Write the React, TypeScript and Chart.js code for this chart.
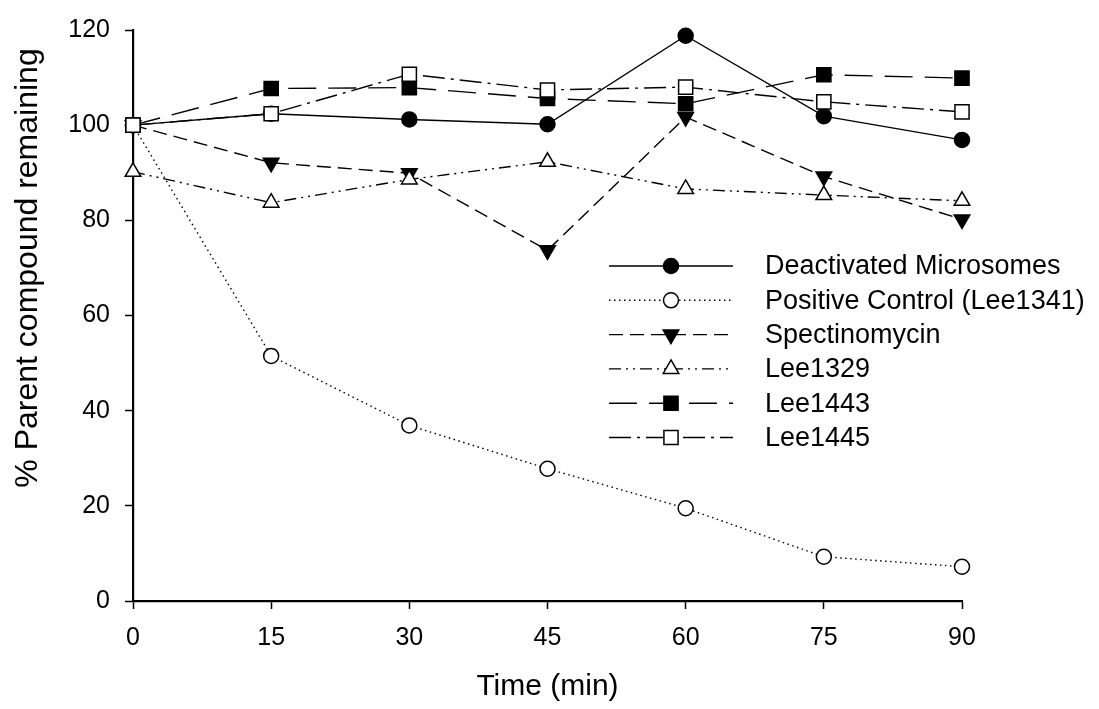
import React, { useEffect, useRef } from 'react';
import { Chart, registerables } from 'chart.js';

Chart.register(...registerables);

const FONT = "'Liberation Sans', Arial, sans-serif";

// ---- data ----
const timePoints = [0, 15, 30, 45, 60, 75, 90];
const xTickValues = [0, 15, 30, 45, 60, 75, 90];
const yTickValues = [0, 20, 40, 60, 80, 100, 120];

const deactivatedMicrosomes = [100, 102.4, 101.2, 100.2, 118.8, 101.9, 96.9];
const positiveControl = [100, 51.5, 36.9, 27.8, 19.5, 9.3, 7.2];
const spectinomycin = [100, 92.1, 89.9, 73.7, 101.7, 89.2, 80.2];
const lee1329 = [90.2, 83.7, 88.6, 92.3, 86.6, 85.3, 84.1];
const lee1443 = [100, 107.7, 107.9, 105.6, 104.5, 110.6, 109.9];
const lee1445 = [100, 102.4, 110.7, 107.4, 108, 104.9, 102.8];

const seriesLabels = [
  'Deactivated Microsomes',
  'Positive Control (Lee1341)',
  'Spectinomycin',
  'Lee1329',
  'Lee1443',
  'Lee1445',
];
const seriesValues = [deactivatedMicrosomes, positiveControl, spectinomycin, lee1329, lee1443, lee1445];

const xAxisTitle = 'Time (min)';
const yAxisTitle = '% Parent compound remaining';

// ---- styles ----
type SeriesStyle = { dash: number[]; shape: 'circle' | 'triangle' | 'rect'; radius: number; fill: string; rotation: number };
const seriesStyles: SeriesStyle[] = [
  { dash: [], shape: 'circle', radius: 7.5, fill: '#000000', rotation: 0 },
  { dash: [1.5, 3.5], shape: 'circle', radius: 7.5, fill: '#ffffff', rotation: 0 },
  { dash: [14, 7], shape: 'triangle', radius: 9, fill: '#000000', rotation: 180 },
  { dash: [12, 5, 2, 5, 2, 5], shape: 'triangle', radius: 9, fill: '#ffffff', rotation: 0 },
  { dash: [28, 12], shape: 'rect', radius: 10, fill: '#000000', rotation: 0 },
  { dash: [22, 6, 3, 6], shape: 'rect', radius: 10, fill: '#ffffff', rotation: 0 },
];

function drawMarker(ctx: CanvasRenderingContext2D, st: SeriesStyle, x: number, y: number) {
  ctx.save();
  ctx.setLineDash([]);
  ctx.beginPath();
  const r = st.radius;
  if (st.shape === 'circle') {
    ctx.arc(x, y, r, 0, Math.PI * 2);
  } else if (st.shape === 'triangle') {
    let a = (st.rotation * Math.PI) / 180;
    ctx.moveTo(x + Math.sin(a) * r, y - Math.cos(a) * r);
    a += (2 * Math.PI) / 3;
    ctx.lineTo(x + Math.sin(a) * r, y - Math.cos(a) * r);
    a += (2 * Math.PI) / 3;
    ctx.lineTo(x + Math.sin(a) * r, y - Math.cos(a) * r);
    ctx.closePath();
  } else {
    const s = r * Math.SQRT1_2;
    ctx.rect(x - s, y - s, 2 * s, 2 * s);
  }
  ctx.fillStyle = st.fill;
  ctx.fill();
  ctx.lineWidth = 1.5;
  ctx.strokeStyle = '#000';
  ctx.stroke();
  ctx.restore();
}

const backgroundPlugin = {
  id: 'whiteBg',
  beforeDraw(chart: any) {
    const ctx = chart.ctx;
    ctx.save();
    ctx.fillStyle = '#ffffff';
    ctx.fillRect(0, 0, chart.width, chart.height);
    ctx.restore();
  },
};

const titlesAndLegendPlugin = {
  id: 'titlesAndLegend',
  afterDraw(chart: any) {
    const ctx: CanvasRenderingContext2D = chart.ctx;
    const area = chart.chartArea;
    ctx.save();
    ctx.fillStyle = '#000';
    // x title
    ctx.font = `30px ${FONT}`;
    ctx.textAlign = 'center';
    ctx.textBaseline = 'alphabetic';
    ctx.fillText(xAxisTitle, (area.left + area.right) / 2, 695);
    // y title
    ctx.save();
    ctx.translate(37, 268);
    ctx.rotate(-Math.PI / 2);
    ctx.font = `32px ${FONT}`;
    ctx.textAlign = 'center';
    ctx.textBaseline = 'alphabetic';
    ctx.fillText(yAxisTitle, 0, 0);
    ctx.restore();

    // legend
    const x0 = 609;
    const x1 = 733;
    const xm = 671;
    const xt = 765;
    seriesLabels.forEach((label, i) => {
      const st = seriesStyles[i];
      const y = 266 + i * 34.3;
      ctx.save();
      ctx.strokeStyle = '#000';
      ctx.lineWidth = 1.4;
      ctx.setLineDash(st.dash);
      ctx.beginPath();
      ctx.moveTo(x0, y);
      ctx.lineTo(x1, y);
      ctx.stroke();
      ctx.restore();
      drawMarker(ctx, st, xm, y);
      ctx.fillStyle = '#000';
      ctx.font = `27px ${FONT}`;
      ctx.textAlign = 'left';
      ctx.textBaseline = 'middle';
      ctx.fillText(label, xt, y + 1);
    });
    ctx.restore();
  },
};

export default function App() {
  const canvasRef = useRef<HTMLCanvasElement | null>(null);

  useEffect(() => {
    if (!canvasRef.current) return;
    const n = seriesLabels.length;
    const datasets = seriesLabels.map((label, i) => {
      const st = seriesStyles[i];
      return {
        label,
        data: timePoints.map((t, j) => ({ x: t, y: seriesValues[i][j] })),
        borderColor: '#000000',
        borderWidth: 1.4,
        borderDash: st.dash,
        backgroundColor: st.fill,
        pointStyle: st.shape,
        pointRotation: st.rotation,
        pointRadius: st.radius,
        pointBorderWidth: 1.5,
        pointBorderColor: '#000000',
        pointBackgroundColor: st.fill,
        tension: 0,
        fill: false,
        clip: false as any,
        order: n - 1 - i,
      };
    });

    const chart = new Chart(canvasRef.current, {
      type: 'line',
      data: { datasets },
      plugins: [backgroundPlugin, titlesAndLegendPlugin],
      options: {
        responsive: false,
        animation: false,
        events: [],
        layout: { padding: { top: 21, right: 137, left: 0, bottom: 0 } },
        plugins: {
          legend: { display: false },
          tooltip: { enabled: false },
          title: { display: false },
        },
        scales: {
          x: {
            type: 'linear',
            min: 0,
            max: 90,
            afterBuildTicks: (scale: any) => {
              scale.ticks = xTickValues.map((v) => ({ value: v }));
            },
            afterFit: (scale: any) => {
              scale.height = 108;
            },
            grid: {
              display: true,
              drawOnChartArea: false,
              drawTicks: true,
              tickLength: 8,
              tickColor: '#000',
              tickWidth: 1.5,
              color: '#000',
            },
            border: { display: true, color: '#000', width: 2.2 },
            ticks: {
              color: '#000',
              font: { size: 25, family: FONT },
              padding: 14,
              maxRotation: 0,
              autoSkip: false,
            },
          },
          y: {
            type: 'linear',
            min: 0,
            max: 120,
            afterBuildTicks: (scale: any) => {
              scale.ticks = yTickValues.map((v) => ({ value: v }));
            },
            afterFit: (scale: any) => {
              scale.width = 133;
            },
            grid: {
              display: true,
              drawOnChartArea: false,
              drawTicks: true,
              tickLength: 8,
              tickColor: '#000',
              tickWidth: 1.5,
              color: '#000',
            },
            border: { display: true, color: '#000', width: 2.2 },
            ticks: {
              color: '#000',
              font: { size: 25, family: FONT },
              padding: 15,
              autoSkip: false,
            },
          },
        },
      },
    } as any);

    return () => {
      chart.destroy();
    };
  }, []);

  return (
    <div style={{ position: 'fixed', left: 0, top: 0, width: 1099, height: 709, background: '#ffffff' }}>
      <canvas ref={canvasRef} width={1099} height={709} style={{ display: 'block', width: 1099, height: 709 }} />
    </div>
  );
}
